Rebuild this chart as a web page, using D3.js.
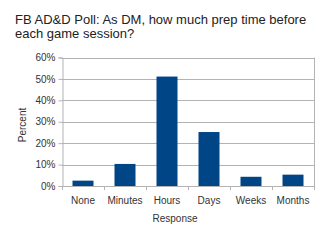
<!DOCTYPE html>
<html><head><meta charset="utf-8">
<script src="https://cdn.jsdelivr.net/npm/d3@7"></script>
<style>body{margin:0;background:#fff}svg{display:block}text{font-family:"Liberation Sans",Arial,sans-serif}</style>
</head><body><svg id="c" width="320" height="240"></svg>
<script>
const categories = ["None","Minutes","Hours","Days","Weeks","Months"];
const values = [2.5, 10.3, 51.1, 25.2, 4.3, 5.3];
const yTicks = [0,10,20,30,40,50,60];
const titleLines = ["FB AD&D Poll: As DM, how much prep time before","each game session?"];

const svg = d3.select("#c");
const m = {l:62, r:314, t:57.5, b:186};
const x = d3.scaleBand().domain(categories).range([m.l, m.r]).paddingInner(0.5).paddingOuter(0.25);
const y = d3.scaleLinear().domain([0,60]).range([m.b, m.t]);
const grid = "#b3b3b3";

svg.append("g").selectAll("text").data(titleLines).join("text")
  .attr("x",15).attr("y",(d,i)=>24+i*13.5).attr("font-size",13).attr("fill","#222").text(d=>d);

// gridlines
svg.append("g").selectAll("line").data(yTicks).join("line")
  .attr("x1",m.l).attr("x2",m.r).attr("y1",d=>Math.round(y(d))+0.5).attr("y2",d=>Math.round(y(d))+0.5)
  .attr("stroke",grid).attr("stroke-width",1);
svg.append("line").attr("x1",m.r+0.5).attr("x2",m.r+0.5).attr("y1",m.t).attr("y2",m.b).attr("stroke",grid);

// y axis
const ya = svg.append("g").attr("transform",`translate(${m.l+0.5},0)`)
  .call(d3.axisLeft(y).tickValues(yTicks).tickFormat(d=>d+"%").tickSize(4).tickPadding(3));
ya.select(".domain").attr("stroke",grid);
ya.selectAll(".tick line").attr("stroke",grid);
ya.selectAll("text").attr("font-size",10).attr("fill","#333").attr("font-family","Liberation Sans, Arial, sans-serif");

// x axis
const xa = svg.append("g").attr("transform",`translate(0,${Math.round(m.b)+0.5})`)
  .call(d3.axisBottom(x).tickSize(0).tickPadding(10));
xa.select(".domain").remove();
xa.selectAll("text").attr("font-size",10).attr("fill","#333").attr("font-family","Liberation Sans, Arial, sans-serif");
const step = x.step();
const bounds = d3.range(categories.length+1).map(i=>m.l+i*step);
svg.append("g").selectAll("line").data(bounds).join("line")
  .attr("x1",d=>Math.round(d)+0.5).attr("x2",d=>Math.round(d)+0.5).attr("y1",m.b).attr("y2",m.b+4)
  .attr("stroke",grid);

// bars
svg.append("g").selectAll("rect").data(values).join("rect")
  .attr("x",(d,i)=>x(categories[i])).attr("width",x.bandwidth())
  .attr("y",d=>y(d)).attr("height",d=>y(0)-y(d)).attr("fill","#004586");

// axis titles
svg.append("text").attr("x",175).attr("y",222).attr("text-anchor","middle").attr("font-size",10).attr("fill","#333").text("Response");
svg.append("text").attr("transform","translate(26,125) rotate(-90)").attr("text-anchor","middle").attr("font-size",10).attr("fill","#333").text("Percent");
</script></body></html>
